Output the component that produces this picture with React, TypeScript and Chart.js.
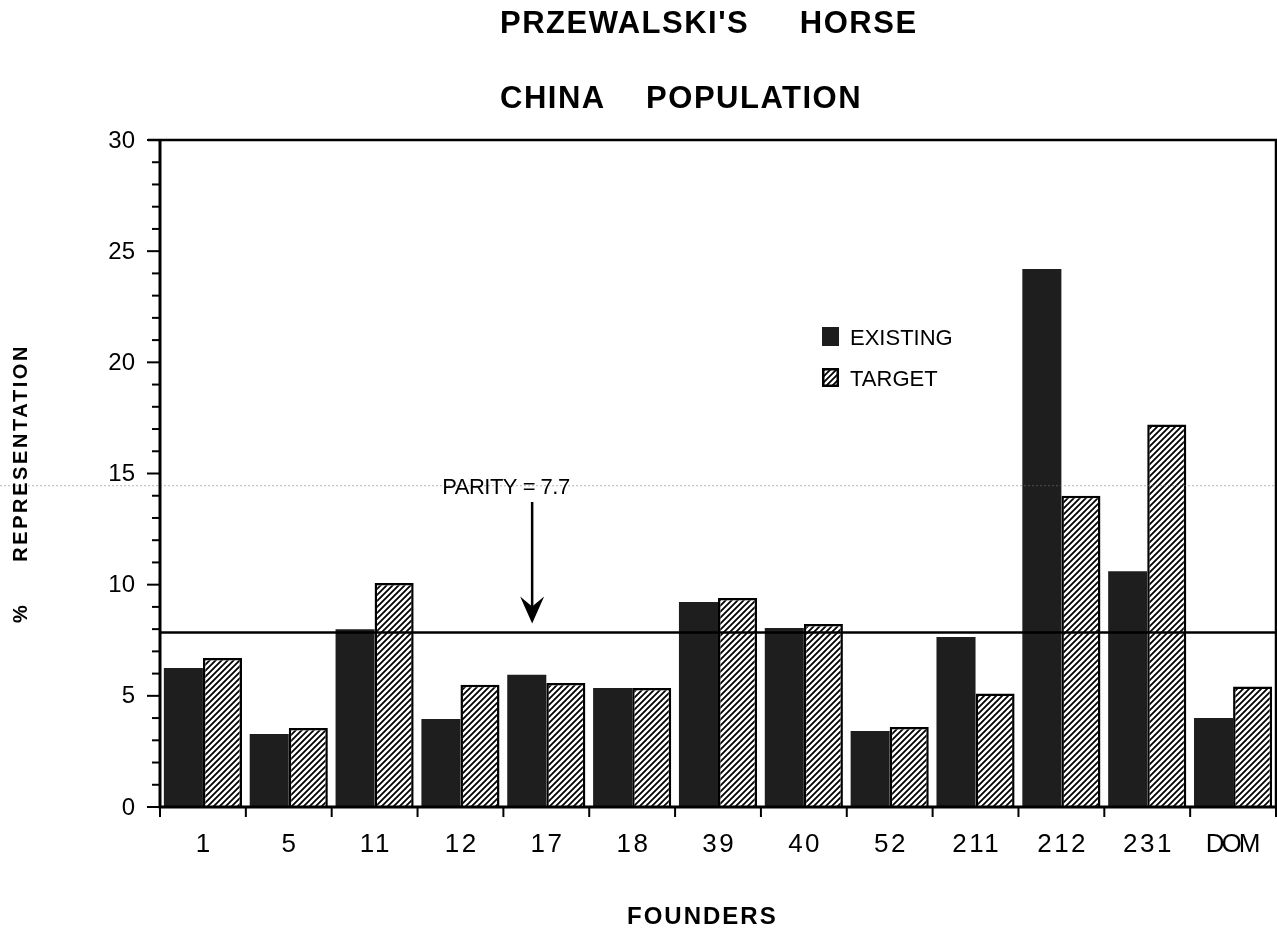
import React, { useEffect, useRef } from 'react';
import { Chart, registerables } from 'chart.js';

Chart.register(...registerables);

// ---- data ----
const TITLE_LINE_1 = "PRZEWALSKI'S     HORSE";
const TITLE_LINE_2 = 'CHINA    POPULATION';
const X_TITLE = 'FOUNDERS';
const Y_TITLE = '%     REPRESENTATION';
const FOUNDERS = ['1', '5', '11', '12', '17', '18', '39', '40', '52', '211', '212', '231', 'DOM'];
const EXISTING = [6.25, 3.28, 8.0, 3.96, 5.95, 5.35, 9.22, 8.05, 3.42, 7.65, 24.2, 10.6, 4.0];
const TARGET = [6.7, 3.55, 10.07, 5.5, 5.58, 5.35, 9.4, 8.23, 3.6, 5.1, 14.0, 17.2, 5.42];
const SERIES_NAMES = ['EXISTING', 'TARGET'];
const Y_TICKS = [0, 5, 10, 15, 20, 25, 30];
const Y_MINOR_STEP = 1;
const PARITY = 7.7;
const PARITY_LINE_LEVEL = 7.85;
const PARITY_LABEL = 'PARITY = ' + PARITY;
const PARITY_CATEGORY = 4; // '17'

const FONT = '"Liberation Sans", Arial, Helvetica, sans-serif';

function makeHatch(): CanvasPattern | string {
  const s = 6;
  const c = document.createElement('canvas');
  c.width = s;
  c.height = s;
  const g = c.getContext('2d');
  if (!g) return '#fff';
  g.fillStyle = '#fff';
  g.fillRect(0, 0, s, s);
  g.strokeStyle = '#000';
  g.lineWidth = 1.8;
  g.beginPath();
  g.moveTo(0, s);
  g.lineTo(s, 0);
  g.moveTo(-1, 1);
  g.lineTo(1, -1);
  g.moveTo(s - 1, s + 1);
  g.lineTo(s + 1, s - 1);
  g.stroke();
  const p = g.createPattern(c, 'repeat');
  return p || '#fff';
}

const overlayPlugin = {
  id: 'overlay',
  afterDatasetsDraw(chart: any) {
    const { ctx, chartArea: a, scales } = chart;
    const y = scales.y;
    ctx.save();
    const py = y.getPixelForValue(PARITY_LINE_LEVEL);
    ctx.strokeStyle = '#000';
    ctx.lineWidth = 2.5;
    ctx.beginPath();
    ctx.moveTo(a.left, py);
    ctx.lineTo(a.right, py);
    ctx.stroke();
    ctx.restore();
  },
  afterDraw(chart: any) {
    const { ctx, chartArea: a, scales, width } = chart;
    const x = scales.x;
    const y = scales.y;
    const hatch = chart.$hatch;
    ctx.save();

    // faint scan line
    const sy = y.getPixelForValue(14.45);
    ctx.strokeStyle = 'rgba(120,120,120,0.55)';
    ctx.lineWidth = 1;
    ctx.setLineDash([2, 2]);
    ctx.beginPath();
    ctx.moveTo(0, sy);
    ctx.lineTo(width, sy);
    ctx.stroke();
    ctx.setLineDash([]);

    // frame
    ctx.strokeStyle = '#000';
    ctx.lineWidth = 3;
    ctx.beginPath();
    ctx.moveTo(a.left, a.top);
    ctx.lineTo(a.left, a.bottom);
    ctx.lineTo(a.right, a.bottom);
    ctx.stroke();
    ctx.lineWidth = 2.5;
    ctx.beginPath();
    ctx.moveTo(a.left - 12, a.top);
    ctx.lineTo(a.right, a.top);
    ctx.lineTo(a.right, a.bottom);
    ctx.stroke();

    // y ticks
    ctx.lineWidth = 2;
    for (let v = y.min; v <= y.max + 1e-9; v += Y_MINOR_STEP) {
      const p = y.getPixelForValue(v);
      const major = Y_TICKS.indexOf(v) >= 0;
      ctx.beginPath();
      ctx.moveTo(a.left - (major ? 13 : 8), p);
      ctx.lineTo(a.left, p);
      ctx.stroke();
    }
    ctx.fillStyle = '#000';
    ctx.font = '24px ' + FONT;
    ctx.textAlign = 'right';
    ctx.textBaseline = 'middle';
    Y_TICKS.forEach((v) => {
      ctx.fillText(String(v), a.left - 25, y.getPixelForValue(v) + 1);
    });

    // x ticks at category boundaries
    const n = FOUNDERS.length;
    const cw = (a.right - a.left) / n;
    ctx.lineWidth = 2;
    for (let i = 0; i <= n; i++) {
      const p = x.getPixelForValue(i) - cw / 2;
      ctx.beginPath();
      ctx.moveTo(p, a.bottom);
      ctx.lineTo(p, a.bottom + 10);
      ctx.stroke();
    }
    // x labels
    ctx.font = '26px ' + FONT;
    ctx.textAlign = 'center';
    ctx.textBaseline = 'alphabetic';
    FOUNDERS.forEach((lab, i) => {
      const numeric = /^\d+$/.test(lab);
      const ls = numeric ? 2.5 : -3;
      (ctx as any).letterSpacing = ls + 'px';
      ctx.fillText(lab, x.getPixelForValue(i) + ls / 2, a.bottom + 45);
    });
    (ctx as any).letterSpacing = '0px';

    // titles
    ctx.font = 'bold 31px ' + FONT;
    ctx.textAlign = 'left';
    (ctx as any).letterSpacing = '1.5px';
    ctx.fillText(TITLE_LINE_1, 500, 33);
    ctx.fillText(TITLE_LINE_2, 500, 108);

    // x title
    ctx.font = 'bold 24px ' + FONT;
    (ctx as any).letterSpacing = '2px';
    ctx.fillText(X_TITLE, 627, 924);

    // y title
    ctx.save();
    ctx.translate(27, 623);
    ctx.rotate(-Math.PI / 2);
    ctx.font = 'bold 20px ' + FONT;
    (ctx as any).letterSpacing = '2.6px';
    ctx.textAlign = 'left';
    ctx.fillText(Y_TITLE, 0, 0);
    ctx.restore();
    (ctx as any).letterSpacing = '0px';

    // legend
    const lx = a.left + (a.right - a.left) * 0.5932;
    const ly1 = 327;
    const ly2 = 368;
    ctx.fillStyle = '#1c1c1c';
    ctx.fillRect(lx, ly1, 17, 19);
    ctx.fillStyle = hatch;
    ctx.fillRect(lx, ly2, 17, 19);
    ctx.strokeStyle = '#000';
    ctx.lineWidth = 2.5;
    ctx.strokeRect(lx + 1.25, ly2 + 1.25, 14.5, 16.5);
    ctx.fillStyle = '#000';
    ctx.font = '22px ' + FONT;
    ctx.textAlign = 'left';
    ctx.textBaseline = 'alphabetic';
    ctx.fillText(SERIES_NAMES[0], lx + 28, ly1 + 18);
    ctx.fillText(SERIES_NAMES[1], lx + 28, ly2 + 18);

    // parity annotation
    const cx = x.getPixelForValue(PARITY_CATEGORY);
    const ax = cx - cw * 0.165;
    ctx.font = '22px ' + FONT;
    ctx.textAlign = 'center';
    (ctx as any).letterSpacing = '-0.5px';
    ctx.fillText(PARITY_LABEL, cx - cw * 0.47, 494);
    (ctx as any).letterSpacing = '0px';
    const top = 502;
    const tip = y.getPixelForValue(PARITY_LINE_LEVEL) - 9;
    ctx.lineWidth = 2.5;
    ctx.beginPath();
    ctx.moveTo(ax, top);
    ctx.lineTo(ax, tip - 10);
    ctx.stroke();
    ctx.beginPath();
    ctx.moveTo(ax, tip);
    ctx.lineTo(ax - 12, tip - 27);
    ctx.lineTo(ax, tip - 17);
    ctx.lineTo(ax + 12, tip - 27);
    ctx.closePath();
    ctx.fill();

    ctx.restore();
  },
};

export default function App() {
  const ref = useRef<HTMLCanvasElement | null>(null);

  useEffect(() => {
    document.body.style.margin = '0';
    const canvas = ref.current;
    if (!canvas) return;
    const hatch = makeHatch();
    const chart: any = new Chart(canvas, {
      type: 'bar',
      data: {
        labels: FOUNDERS,
        datasets: [
          {
            label: SERIES_NAMES[0],
            data: EXISTING,
            backgroundColor: '#1e1e1e',
            borderWidth: 0,
            categoryPercentage: 0.91,
            barPercentage: 1,
          },
          {
            label: SERIES_NAMES[1],
            data: TARGET,
            backgroundColor: hatch as any,
            borderColor: '#000',
            borderWidth: 2.5,
            borderSkipped: 'bottom',
            categoryPercentage: 0.91,
            barPercentage: 1,
          },
        ],
      },
      options: {
        responsive: false,
        animation: false,
        layout: { padding: { left: 160, top: 140, right: 1, bottom: 125 } },
        plugins: {
          legend: { display: false },
          tooltip: { enabled: false },
          title: { display: false },
        },
        scales: {
          x: { display: false, offset: true },
          y: { display: false, min: 0, max: 30 },
        },
      },
      plugins: [overlayPlugin],
    });
    chart.$hatch = hatch;
    chart.draw();
    return () => chart.destroy();
  }, []);

  return (
    <canvas
      ref={ref}
      width={1277}
      height={932}
      style={{ display: 'block', width: 1277, height: 932, background: '#fff' }}
    />
  );
}
